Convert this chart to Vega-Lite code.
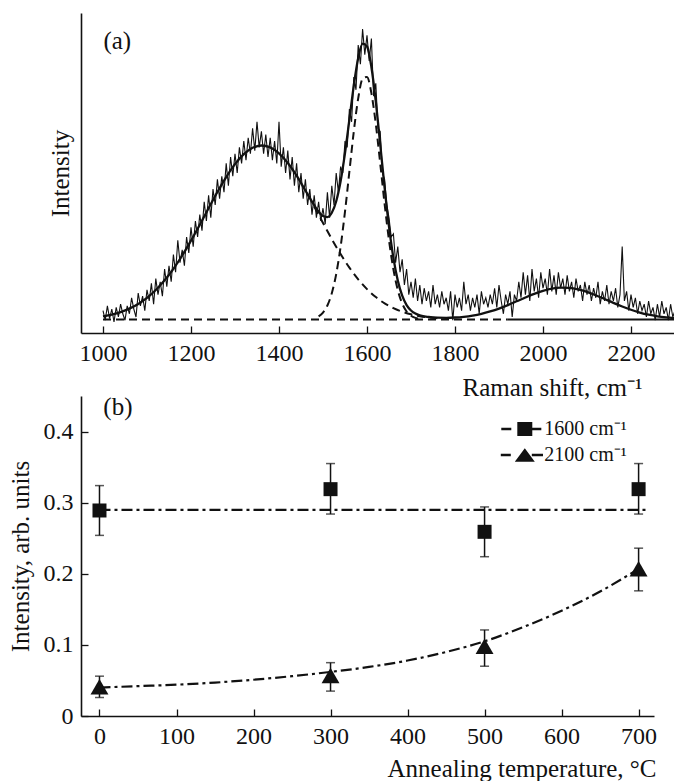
{
  "$schema": "https://vega.github.io/schema/vega-lite/v6.json",
  "background": "white",
  "padding": {"left": 8, "top": 13, "right": 0, "bottom": 0},
  "spacing": 63,
  "bounds": "flush",
  "resolve": {"scale": {"shape": "independent"}, "legend": {"shape": "independent"}},
  "config": {
    "view": {"stroke": null},
    "font": "Liberation Serif",
    "axis": {
      "domainColor": "#111", "domainWidth": 1.6, "tickColor": "#111", "tickWidth": 1.3,
      "tickSize": -7, "labelPadding": 15,
      "labelFont": "Liberation Serif", "labelFontSize": 24, "labelColor": "#111",
      "titleFont": "Liberation Serif", "titleFontSize": 25, "titleFontWeight": "normal", "titleColor": "#111",
      "grid": false, "labelOverlap": false, "labelFlush": false
    },
    "legend": {
      "labelFont": "Liberation Serif", "labelFontSize": 20, "labelColor": "#111",
      "symbolSize": 196, "symbolStrokeWidth": 0, "symbolFillColor": "#111",
      "rowPadding": 6, "labelOffset": 9.5, "padding": 0
    }
  },
  "datasets": {
    "raw": [
      {"s":1000,"i":0.07},{"s":1005,"i":0.04},{"s":1010,"i":0.085},{"s":1015,"i":0.045},{"s":1020,"i":0.075},{"s":1025,"i":0.035},{"s":1030,"i":0.08},{"s":1035,"i":0.05},{"s":1040,"i":0.09},{"s":1045,"i":0.06},
      {"s":1050,"i":0.04},{"s":1055,"i":0.085},{"s":1060,"i":0.06},{"s":1065,"i":0.11},{"s":1070,"i":0.075},{"s":1075,"i":0.05},{"s":1080,"i":0.125},{"s":1085,"i":0.085},{"s":1090,"i":0.115},{"s":1095,"i":0.07},
      {"s":1100,"i":0.135},{"s":1105,"i":0.10},{"s":1110,"i":0.155},{"s":1115,"i":0.09},{"s":1120,"i":0.17},{"s":1125,"i":0.12},{"s":1130,"i":0.16},{"s":1135,"i":0.115},{"s":1140,"i":0.20},{"s":1145,"i":0.145},
      {"s":1150,"i":0.21},{"s":1155,"i":0.16},{"s":1160,"i":0.245},{"s":1165,"i":0.19},{"s":1170,"i":0.29},{"s":1175,"i":0.22},{"s":1180,"i":0.26},{"s":1185,"i":0.21},{"s":1190,"i":0.30},{"s":1195,"i":0.25},
      {"s":1200,"i":0.33},{"s":1205,"i":0.27},{"s":1210,"i":0.35},{"s":1215,"i":0.30},{"s":1220,"i":0.37},{"s":1225,"i":0.32},{"s":1230,"i":0.41},{"s":1235,"i":0.35},{"s":1240,"i":0.43},{"s":1245,"i":0.36},
      {"s":1250,"i":0.45},{"s":1255,"i":0.40},{"s":1260,"i":0.48},{"s":1265,"i":0.42},{"s":1270,"i":0.49},{"s":1275,"i":0.44},{"s":1280,"i":0.53},{"s":1285,"i":0.46},{"s":1290,"i":0.55},{"s":1295,"i":0.49},
      {"s":1300,"i":0.56},{"s":1305,"i":0.50},{"s":1310,"i":0.58},{"s":1315,"i":0.53},{"s":1320,"i":0.60},{"s":1325,"i":0.54},{"s":1330,"i":0.61},{"s":1335,"i":0.56},{"s":1340,"i":0.64},{"s":1345,"i":0.57},
      {"s":1350,"i":0.66},{"s":1355,"i":0.58},{"s":1360,"i":0.63},{"s":1365,"i":0.56},{"s":1370,"i":0.62},{"s":1375,"i":0.55},{"s":1380,"i":0.61},{"s":1385,"i":0.54},{"s":1390,"i":0.60},{"s":1395,"i":0.53},
      {"s":1400,"i":0.66},{"s":1405,"i":0.52},{"s":1410,"i":0.58},{"s":1415,"i":0.50},{"s":1420,"i":0.57},{"s":1425,"i":0.48},{"s":1430,"i":0.55},{"s":1435,"i":0.46},{"s":1440,"i":0.53},{"s":1445,"i":0.44},
      {"s":1450,"i":0.50},{"s":1455,"i":0.42},{"s":1460,"i":0.48},{"s":1465,"i":0.40},{"s":1470,"i":0.45},{"s":1475,"i":0.37},{"s":1480,"i":0.43},{"s":1485,"i":0.36},{"s":1490,"i":0.41},{"s":1495,"i":0.35},
      {"s":1500,"i":0.39},{"s":1505,"i":0.34},{"s":1510,"i":0.44},{"s":1515,"i":0.36},{"s":1520,"i":0.46},{"s":1525,"i":0.40},{"s":1530,"i":0.50},{"s":1535,"i":0.44},{"s":1540,"i":0.52},{"s":1545,"i":0.50},
      {"s":1550,"i":0.60},{"s":1555,"i":0.58},{"s":1560,"i":0.70},{"s":1565,"i":0.66},{"s":1570,"i":0.80},{"s":1575,"i":0.76},{"s":1580,"i":0.90},{"s":1585,"i":0.84},{"s":1590,"i":0.95},{"s":1595,"i":0.87},
      {"s":1600,"i":0.93},{"s":1605,"i":0.85},{"s":1610,"i":0.92},{"s":1615,"i":0.74},{"s":1620,"i":0.78},{"s":1625,"i":0.64},{"s":1630,"i":0.63},{"s":1635,"i":0.50},{"s":1640,"i":0.48},{"s":1645,"i":0.40},
      {"s":1650,"i":0.36},{"s":1655,"i":0.30},{"s":1660,"i":0.31},{"s":1665,"i":0.22},{"s":1670,"i":0.27},{"s":1675,"i":0.19},{"s":1680,"i":0.23},{"s":1685,"i":0.15},{"s":1690,"i":0.20},{"s":1695,"i":0.12},
      {"s":1700,"i":0.16},{"s":1705,"i":0.11},{"s":1710,"i":0.17},{"s":1715,"i":0.10},{"s":1720,"i":0.15},{"s":1725,"i":0.09},{"s":1730,"i":0.14},{"s":1735,"i":0.10},{"s":1740,"i":0.13},{"s":1745,"i":0.08},
      {"s":1750,"i":0.15},{"s":1755,"i":0.09},{"s":1760,"i":0.12},{"s":1765,"i":0.08},{"s":1770,"i":0.13},{"s":1775,"i":0.09},{"s":1780,"i":0.11},{"s":1785,"i":0.07},{"s":1790,"i":0.13},{"s":1795,"i":0.04},
      {"s":1800,"i":0.12},{"s":1805,"i":0.08},{"s":1810,"i":0.11},{"s":1815,"i":0.07},{"s":1820,"i":0.16},{"s":1825,"i":0.09},{"s":1830,"i":0.12},{"s":1835,"i":0.07},{"s":1840,"i":0.11},{"s":1845,"i":0.08},
      {"s":1850,"i":0.12},{"s":1855,"i":0.06},{"s":1860,"i":0.13},{"s":1865,"i":0.09},{"s":1870,"i":0.11},{"s":1875,"i":0.08},{"s":1880,"i":0.12},{"s":1885,"i":0.09},{"s":1890,"i":0.14},{"s":1895,"i":0.08},
      {"s":1900,"i":0.15},{"s":1905,"i":0.10},{"s":1910,"i":0.06},{"s":1915,"i":0.12},{"s":1920,"i":0.09},{"s":1925,"i":0.13},{"s":1930,"i":0.05},{"s":1935,"i":0.12},{"s":1940,"i":0.10},{"s":1945,"i":0.16},
      {"s":1950,"i":0.11},{"s":1955,"i":0.19},{"s":1960,"i":0.12},{"s":1965,"i":0.18},{"s":1970,"i":0.10},{"s":1975,"i":0.20},{"s":1980,"i":0.13},{"s":1985,"i":0.17},{"s":1990,"i":0.11},{"s":1995,"i":0.19},
      {"s":2000,"i":0.14},{"s":2005,"i":0.17},{"s":2010,"i":0.12},{"s":2015,"i":0.20},{"s":2020,"i":0.13},{"s":2025,"i":0.18},{"s":2030,"i":0.12},{"s":2035,"i":0.19},{"s":2040,"i":0.14},{"s":2045,"i":0.17},
      {"s":2050,"i":0.12},{"s":2055,"i":0.18},{"s":2060,"i":0.13},{"s":2065,"i":0.16},{"s":2070,"i":0.11},{"s":2075,"i":0.17},{"s":2080,"i":0.13},{"s":2085,"i":0.15},{"s":2090,"i":0.10},{"s":2095,"i":0.16},
      {"s":2100,"i":0.12},{"s":2105,"i":0.15},{"s":2110,"i":0.10},{"s":2115,"i":0.14},{"s":2120,"i":0.11},{"s":2125,"i":0.16},{"s":2130,"i":0.09},{"s":2135,"i":0.13},{"s":2140,"i":0.10},{"s":2145,"i":0.15},
      {"s":2150,"i":0.09},{"s":2155,"i":0.13},{"s":2160,"i":0.10},{"s":2165,"i":0.14},{"s":2170,"i":0.08},{"s":2175,"i":0.12},{"s":2180,"i":0.27},{"s":2185,"i":0.10},{"s":2190,"i":0.13},{"s":2195,"i":0.07},
      {"s":2200,"i":0.12},{"s":2205,"i":0.08},{"s":2210,"i":0.11},{"s":2215,"i":0.06},{"s":2220,"i":0.10},{"s":2225,"i":0.07},{"s":2230,"i":0.09},{"s":2235,"i":0.05},{"s":2240,"i":0.10},{"s":2245,"i":0.06},
      {"s":2250,"i":0.08},{"s":2255,"i":0.04},{"s":2260,"i":0.09},{"s":2265,"i":0.05},{"s":2270,"i":0.10},{"s":2275,"i":0.06},{"s":2280,"i":0.08},{"s":2285,"i":0.04},{"s":2290,"i":0.09},{"s":2295,"i":0.05},
      {"s":2300,"i":0.07}
    ],
    "fit": [
      {"s":1000,"i":0.0522},{"s":1020,"i":0.0576},{"s":1040,"i":0.0654},{"s":1060,"i":0.0763},{"s":1080,"i":0.0909},{"s":1100,"i":0.1100},{"s":1120,"i":0.1344},{"s":1140,"i":0.1646},{"s":1160,"i":0.2005},{"s":1180,"i":0.2422},
      {"s":1200,"i":0.2887},{"s":1220,"i":0.3385},{"s":1240,"i":0.3900},{"s":1260,"i":0.4405},{"s":1280,"i":0.4873},{"s":1300,"i":0.5276},{"s":1320,"i":0.5588},{"s":1340,"i":0.5787},{"s":1360,"i":0.5860},{"s":1380,"i":0.5801},
      {"s":1400,"i":0.5614},{"s":1420,"i":0.5312},{"s":1440,"i":0.4917},{"s":1460,"i":0.4454},{"s":1480,"i":0.3993},{"s":1490,"i":0.3794},{"s":1500,"i":0.3655},{"s":1510,"i":0.3623},{"s":1520,"i":0.3757},{"s":1530,"i":0.4117},
      {"s":1540,"i":0.4742},{"s":1550,"i":0.5622},{"s":1560,"i":0.6672},{"s":1570,"i":0.7733},{"s":1580,"i":0.8591},{"s":1590,"i":0.9043},{"s":1600,"i":0.8955},{"s":1610,"i":0.8314},{"s":1620,"i":0.7231},{"s":1630,"i":0.5903},
      {"s":1640,"i":0.4541},{"s":1650,"i":0.3322},{"s":1660,"i":0.2346},{"s":1670,"i":0.1637},{"s":1680,"i":0.1165},{"s":1690,"i":0.0872},{"s":1700,"i":0.0704},{"s":1710,"i":0.0606},{"s":1720,"i":0.0550},{"s":1740,"i":0.0500},
      {"s":1760,"i":0.0479},{"s":1780,"i":0.0475},{"s":1800,"i":0.0484},{"s":1820,"i":0.0507},{"s":1840,"i":0.0545},{"s":1860,"i":0.0600},{"s":1880,"i":0.0674},{"s":1900,"i":0.0764},{"s":1920,"i":0.0872},{"s":1940,"i":0.0990},
      {"s":1960,"i":0.1111},{"s":1980,"i":0.1224},{"s":2000,"i":0.1319},{"s":2020,"i":0.1387},{"s":2040,"i":0.1418},{"s":2060,"i":0.1410},{"s":2080,"i":0.1364},{"s":2100,"i":0.1284},{"s":2120,"i":0.1181},{"s":2140,"i":0.1063},
      {"s":2160,"i":0.0942},{"s":2180,"i":0.0828},{"s":2200,"i":0.0726},{"s":2220,"i":0.0640},{"s":2240,"i":0.0572},{"s":2260,"i":0.0521},{"s":2280,"i":0.0485},{"s":2300,"i":0.0460}
    ],
    "dband": [
      {"s":1480,"i":0.3951},{"s":1500,"i":0.3437},{"s":1520,"i":0.2935},{"s":1540,"i":0.2467},{"s":1560,"i":0.2044},{"s":1580,"i":0.1679},{"s":1600,"i":0.1372},{"s":1620,"i":0.1122},
      {"s":1640,"i":0.0926},{"s":1660,"i":0.0775},{"s":1680,"i":0.0664},{"s":1700,"i":0.0583},{"s":1720,"i":0.0526},{"s":1740,"i":0.0488},{"s":1760,"i":0.0462}
    ],
    "gband": [
      {"s":1490,"i":0.052},{"s":1500,"i":0.0638},{"s":1510,"i":0.086},{"s":1520,"i":0.1242},{"s":1530,"i":0.1841},{"s":1540,"i":0.2695},{"s":1550,"i":0.3793},{"s":1560,"i":0.5048},
      {"s":1570,"i":0.6298},{"s":1580,"i":0.7332},{"s":1590,"i":0.7945},{"s":1600,"i":0.8003},{"s":1610,"i":0.7494},{"s":1620,"i":0.6529},{"s":1630,"i":0.5305},{"s":1640,"i":0.4035},
      {"s":1650,"i":0.2897},{"s":1660,"i":0.1991},{"s":1670,"i":0.1342},{"s":1680,"i":0.0921},{"s":1690,"i":0.0672},{"s":1700,"i":0.0538},{"s":1710,"i":0.0471},{"s":1720,"i":0.044}
    ],
    "basedash": [{"s":1000,"i":0.042},{"s":1920,"i":0.042}],
    "basesolid": [{"s":1920,"i":0.042},{"s":2300,"i":0.042}],
    "la": [{"s":1001,"i":0.911,"txt":"(a)"}],
    "pts": [
      {"t":0,"v":0.289,"lo":0.254,"hi":0.324,"k":"sq"},
      {"t":300,"v":0.319,"lo":0.284,"hi":0.355,"k":"sq"},
      {"t":500,"v":0.259,"lo":0.224,"hi":0.294,"k":"sq"},
      {"t":700,"v":0.319,"lo":0.284,"hi":0.355,"k":"sq"},
      {"t":0,"v":0.041,"lo":0.026,"hi":0.056,"k":"tri"},
      {"t":300,"v":0.057,"lo":0.035,"hi":0.075,"k":"tri"},
      {"t":500,"v":0.098,"lo":0.070,"hi":0.121,"k":"tri"},
      {"t":700,"v":0.207,"lo":0.176,"hi":0.236,"k":"tri"}
    ],
    "fits": [
      {"t":0,"v":0.29,"series":"1600"},{"t":710,"v":0.29,"series":"1600"},
      {"t":0,"v":0.040,"series":"2100"},{"t":50,"v":0.042,"series":"2100"},{"t":100,"v":0.044,"series":"2100"},{"t":150,"v":0.047,"series":"2100"},
      {"t":200,"v":0.051,"series":"2100"},{"t":250,"v":0.056,"series":"2100"},{"t":300,"v":0.062,"series":"2100"},{"t":350,"v":0.069,"series":"2100"},
      {"t":400,"v":0.078,"series":"2100"},{"t":450,"v":0.090,"series":"2100"},{"t":500,"v":0.105,"series":"2100"},{"t":550,"v":0.125,"series":"2100"},
      {"t":600,"v":0.148,"series":"2100"},{"t":650,"v":0.175,"series":"2100"},{"t":700,"v":0.207,"series":"2100"}
    ],
    "lb": [{"t":5,"v":0.435,"txt":"(b)"}]
  },
  "vconcat": [
    {
      "width": 594,
      "height": 320,
      "encoding": {
        "x": {"field": "s", "type": "quantitative",
          "scale": {"domain": [950, 2300], "nice": false, "zero": false},
          "axis": {"values": [1000, 1200, 1400, 1600, 1800, 2000, 2200], "format": "d",
            "title": "Raman shift, cm⁻¹", "titleAlign": "right", "titleX": 561, "titleY": 62, "titleBaseline": "alphabetic"}},
        "y": {"field": "i", "type": "quantitative",
          "scale": {"domain": [0, 1], "nice": false, "zero": false},
          "axis": {"title": "Intensity", "ticks": false, "labels": false,
            "titleX": -21, "titleY": 160, "titleAlign": "center", "titleBaseline": "middle", "titleAngle": -90}}
      },
      "layer": [
        {"data": {"name": "basedash"}, "mark": {"type": "line", "color": "#111", "strokeWidth": 2, "strokeDash": [8, 5]}},
        {"data": {"name": "basesolid"}, "mark": {"type": "line", "color": "#111", "strokeWidth": 2}},
        {"data": {"name": "dband"}, "mark": {"type": "line", "color": "#111", "strokeWidth": 2, "strokeDash": [8, 5], "interpolate": "monotone"}},
        {"data": {"name": "gband"}, "mark": {"type": "line", "color": "#111", "strokeWidth": 2, "strokeDash": [8, 5], "interpolate": "monotone"}},
        {"data": {"name": "raw"}, "mark": {"type": "line", "color": "#111", "strokeWidth": 1.1}},
        {"data": {"name": "fit"}, "mark": {"type": "line", "color": "#111", "strokeWidth": 2.3, "interpolate": "monotone"}},
        {"data": {"name": "la"}, "mark": {"type": "text", "align": "left", "baseline": "middle", "fontSize": 25, "font": "Liberation Serif", "color": "#111"},
          "encoding": {"text": {"field": "txt"}}}
      ]
    },
    {
      "width": 573,
      "height": 320,
      "encoding": {
        "x": {"field": "t", "type": "quantitative",
          "scale": {"domain": [-24, 720], "nice": false, "zero": false},
          "axis": {"values": [0, 100, 200, 300, 400, 500, 600, 700], "format": "d",
            "title": "Annealing temperature, °C", "titleAlign": "right", "titleX": 575, "titleY": 60, "titleBaseline": "alphabetic"}},
        "y": {"field": "v", "type": "quantitative",
          "scale": {"domain": [0, 0.45], "nice": false, "zero": false},
          "axis": {"values": [0, 0.1, 0.2, 0.3, 0.4],
            "labelExpr": "datum.value == 0 ? '0' : format(datum.value, '.1f')",
            "title": "Intensity, arb. units",
            "titleX": -61, "titleY": 160, "titleAlign": "center", "titleBaseline": "middle", "titleAngle": -90}}
      },
      "layer": [
        {"data": {"name": "fits"}, "mark": {"type": "line", "color": "#111", "strokeWidth": 2.2, "strokeDash": [11, 4, 3, 4], "interpolate": "monotone"},
          "encoding": {"detail": {"field": "series"}}},
        {"data": {"name": "pts"}, "mark": {"type": "rule", "color": "#111", "strokeWidth": 1.5},
          "encoding": {"y": {"field": "lo", "type": "quantitative", "title": "Intensity, arb. units"}, "y2": {"field": "hi"}}},
        {"data": {"name": "pts"}, "mark": {"type": "tick", "color": "#111", "thickness": 1.5, "size": 9, "orient": "horizontal"},
          "encoding": {"y": {"field": "lo", "type": "quantitative", "title": "Intensity, arb. units"}}},
        {"data": {"name": "pts"}, "mark": {"type": "tick", "color": "#111", "thickness": 1.5, "size": 9, "orient": "horizontal"},
          "encoding": {"y": {"field": "hi", "type": "quantitative", "title": "Intensity, arb. units"}}},
        {"data": {"name": "pts"}, "transform": [{"filter": "datum.k == 'sq'"}],
          "mark": {"type": "point", "shape": "square", "filled": true, "color": "#111", "size": 196, "opacity": 1}},
        {"data": {"name": "pts"}, "transform": [{"filter": "datum.k == 'tri'"}],
          "mark": {"type": "point", "shape": "triangle-up", "filled": true, "color": "#111", "size": 320, "opacity": 1}},
        {"data": {"values": []},
          "mark": {"type": "point", "filled": true, "color": "#111", "opacity": 1},
          "encoding": {"shape": {"field": "series", "type": "nominal",
            "scale": {"domain": ["1600 cm⁻¹", "2100 cm⁻¹"],
              "range": ["M-3.36,-0.18H-1.93V0.18H-3.36Z M-1.07,-1H1.07V1H-1.07Z M1.07,-0.18H2.36V0.18H1.07Z",
                        "M-3.43,-0.18H-2V0.18H-3.43Z M-1.43,0.95L0,-0.95L1.43,0.95Z M1,-0.18H2.6V0.18H1Z"]},
            "legend": {"title": null, "orient": "none", "legendX": 433.8, "legendY": 23,
              "symbolFillColor": "#111", "symbolStrokeWidth": 0, "symbolSize": 196, "symbolOpacity": 1}}}},
        {"data": {"name": "lb"}, "mark": {"type": "text", "align": "left", "baseline": "middle", "fontSize": 25, "font": "Liberation Serif", "color": "#111"},
          "encoding": {"text": {"field": "txt"}}}
      ]
    }
  ]
}
